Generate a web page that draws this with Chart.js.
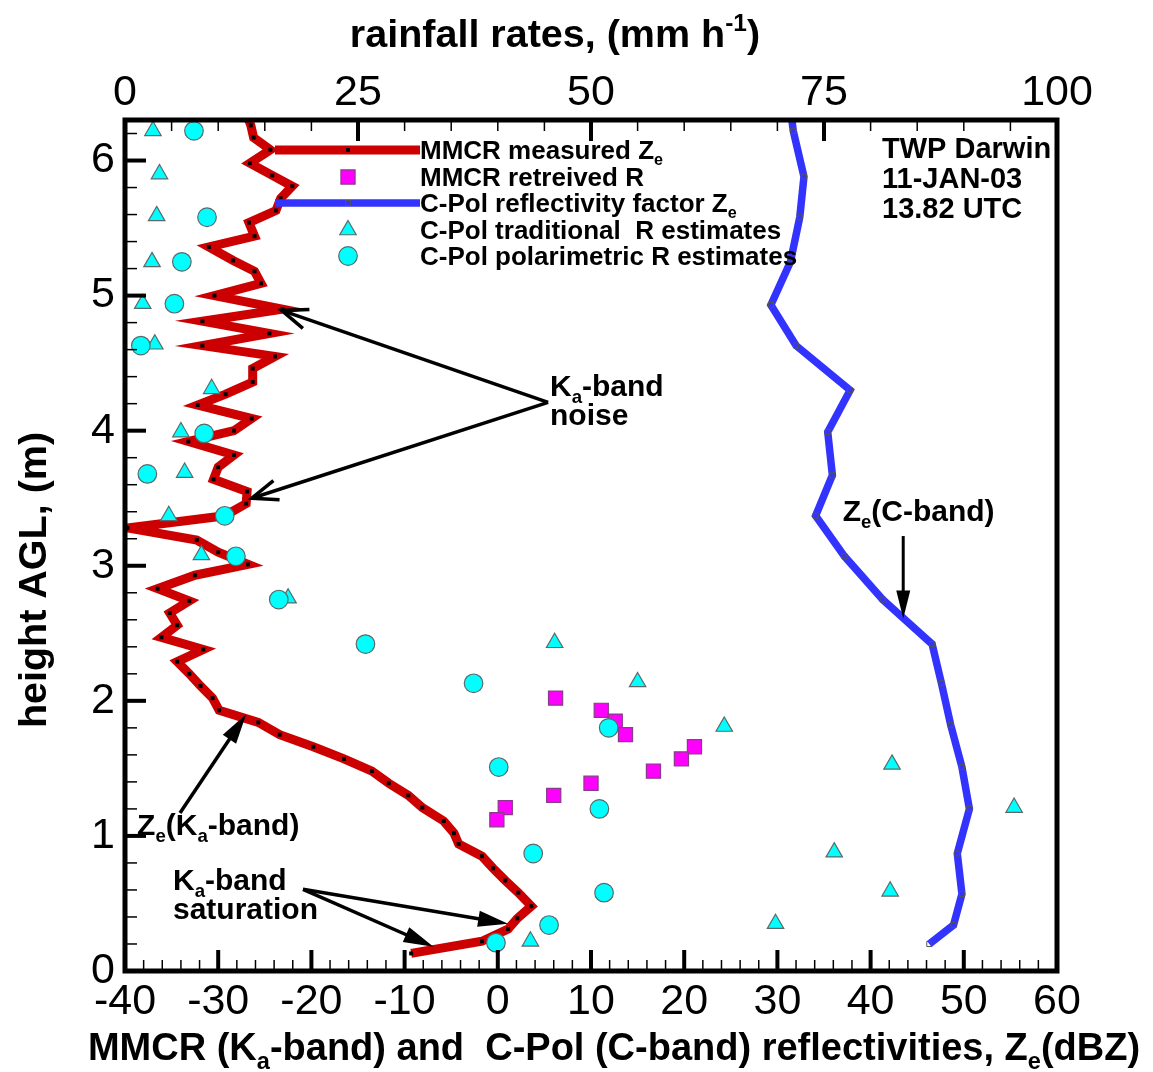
<!DOCTYPE html>
<html>
<head>
<meta charset="utf-8">
<script src="https://cdn.jsdelivr.net/npm/chart.js@4.4.1/dist/chart.umd.min.js"></script>
<style>
  html, body { margin: 0; padding: 0; background: #fff; }
  canvas { display: block; }
</style>
</head>
<body>
<canvas id="chart" width="1153" height="1072"></canvas>
<script>
// tick labels
const bottomTicks = [-40, -30, -20, -10, 0, 10, 20, 30, 40, 50, 60];
const topTicks = [0, 25, 50, 75, 100];
const leftTicks = [0, 1, 2, 3, 4, 5, 6];

// MMCR (Ka-band) measured reflectivity, dBZ vs height
const mmcrHeight = [0.13, 0.22, 0.31, 0.39, 0.48, 0.58, 0.67, 0.76, 0.85, 0.94, 1.02, 1.11, 1.21, 1.30, 1.39, 1.48,
  1.57, 1.66, 1.75, 1.84, 1.93, 2.02, 2.11, 2.20, 2.29, 2.38, 2.47, 2.56, 2.65, 2.74, 2.83, 2.93, 3.01, 3.10, 3.19,
  3.28, 3.37, 3.46, 3.55, 3.64, 3.73, 3.82, 3.92, 4.00, 4.09, 4.19, 4.27, 4.36, 4.46, 4.55, 4.63, 4.72, 4.81, 4.90,
  5.00, 5.09, 5.18, 5.26, 5.36, 5.44, 5.54, 5.63, 5.72, 5.81, 5.89, 5.98, 6.08, 6.17, 6.26, 6.35];
const mmcrZe = [-9.3, -1.7, 1.1, 2.1, 3.6, 2.2, 0.8, -0.5, -1.7, -4.2, -4.7, -5.8, -8.1, -9.6, -11.7, -13.5,
  -16.5, -19.8, -23.4, -25.7, -29.9, -30.6, -31.9, -33.1, -34.4, -31.6, -36.1, -34.4, -35.2, -33.1, -36.5, -32.5, -26.8, -30.0, -32.3,
  -39.75, -29.3, -27.0, -26.9, -30.5, -30.0, -28.3, -33.2, -28.3, -26.4, -32.2, -29.2, -26.3, -26.3, -23.9, -31.7, -24.5, -31.7, -23.1,
  -30.4, -25.4, -26.1, -28.4, -31.0, -26.1, -26.7, -23.8, -23.3, -22.05, -24.2, -26.6, -24.4, -26.2, -26.5, -27.0];

// C-Pol (C-band) reflectivity factor
const cpolHeight = [0.20, 0.34, 0.57, 0.87, 1.20, 1.51, 1.82, 2.13, 2.42, 2.75, 3.07, 3.37, 3.67, 3.99, 4.30,
  4.63, 4.93, 5.25, 5.58, 5.88, 6.22, 6.50];
const cpolZe = [46.3, 48.9, 49.8, 49.3, 50.6, 49.8, 48.6, 47.6, 46.6, 41.3, 37.2, 34.1, 35.9, 35.4, 37.8,
  32.0, 29.3, 31.4, 32.4, 32.85, 31.7, 31.2];

// MMCR retrieved rain rate, mm/h
const retrHeight = [2.02, 1.93, 1.85, 1.75, 1.66, 1.57, 1.48, 1.39, 1.30, 1.21, 1.12];
const retrRain = [46.2, 51.1, 52.6, 53.7, 61.1, 59.7, 56.7, 50.0, 46.0, 40.8, 39.9];

// C-Pol traditional R estimates
const tradHeight = [6.22, 5.90, 5.59, 5.25, 4.94, 4.64, 4.31, 3.99, 3.69, 3.37, 3.08, 2.76, 2.43, 2.14, 1.81,
  1.53, 1.21, 0.88, 0.59, 0.35, 0.22];
const tradRain = [3.0, 3.7, 3.4, 2.9, 1.9, 3.2, 9.3, 6.0, 6.4, 4.7, 8.2, 17.5, 46.1, 55.0, 64.3,
  82.3, 95.4, 76.1, 82.1, 69.8, 43.5];

// C-Pol polarimetric R estimates
const polHeight = [6.22, 5.58, 5.25, 4.94, 4.63, 3.98, 3.68, 3.37, 3.07, 2.75, 2.42, 2.13, 1.80, 1.51, 1.20,
  0.87, 0.58, 0.34, 0.21];
const polRain = [7.4, 8.8, 6.1, 5.3, 1.7, 8.5, 2.4, 10.7, 11.9, 16.5, 25.8, 37.4, 51.9, 40.1, 50.9,
  43.8, 51.4, 45.5, 39.8];

const FONT = '"Liberation Sans", Arial, Helvetica, sans-serif';
const pts = (xs, ys) => xs.map((v, i) => ({ x: v, y: ys[i] }));

// draws text with sub/superscripts; parts = [[text, 'sub'|'sup'|undefined], ...]
function rich(ctx, parts, x, y, size, align) {
  const small = size * 0.62;
  let w = 0;
  const widths = parts.map(p => {
    ctx.font = 'bold ' + (p[1] ? small : size) + 'px ' + FONT;
    const m = ctx.measureText(p[0]).width;
    w += m;
    return m;
  });
  let cx = align === 'center' ? x - w / 2 : x;
  ctx.textAlign = 'left';
  ctx.textBaseline = 'alphabetic';
  parts.forEach((p, i) => {
    ctx.font = 'bold ' + (p[1] ? small : size) + 'px ' + FONT;
    const dy = p[1] === 'sub' ? size * 0.24 : p[1] === 'sup' ? -size * 0.4 : 0;
    ctx.fillText(p[0], cx, y + dy);
    cx += widths[i];
  });
}

function arrow(ctx, x1, y1, x2, y2, lw, len, half, open) {
  const ang = Math.atan2(y2 - y1, x2 - x1);
  ctx.lineWidth = lw;
  ctx.beginPath();
  ctx.moveTo(x1, y1);
  ctx.lineTo(open ? x2 : x2 - Math.cos(ang) * len * 0.7, open ? y2 : y2 - Math.sin(ang) * len * 0.7);
  ctx.stroke();
  const bx = x2 - Math.cos(ang) * len, by = y2 - Math.sin(ang) * len;
  const nx = -Math.sin(ang) * half, ny = Math.cos(ang) * half;
  ctx.beginPath();
  ctx.moveTo(bx + nx, by + ny);
  ctx.lineTo(x2, y2);
  ctx.lineTo(bx - nx, by - ny);
  if (open) {
    ctx.stroke();
  } else {
    ctx.closePath();
    ctx.fill();
  }
}

const decor = {
  id: 'decor',
  afterDraw(chart) {
    const ctx = chart.ctx, a = chart.chartArea;
    const sx = chart.scales.x, sx2 = chart.scales.x2, sy = chart.scales.y;
    ctx.save();
    ctx.strokeStyle = '#000';
    ctx.fillStyle = '#000';
    ctx.lineCap = 'butt';

    const line = (x1, y1, x2, y2, w) => {
      ctx.lineWidth = w;
      ctx.beginPath();
      ctx.moveTo(x1, y1);
      ctx.lineTo(x2, y2);
      ctx.stroke();
    };
    // inward ticks
    for (let i = 0; i <= 50; i++) {
      const px = sx.getPixelForValue(-40 + i * 2), major = i % 5 === 0;
      line(px, a.bottom, px, a.bottom - (major ? 21 : 11), major ? 4 : 1.5);
    }
    for (let i = 0; i <= 20; i++) {
      const px = sx2.getPixelForValue(i * 5), major = i % 5 === 0;
      line(px, a.top, px, a.top + (major ? 21 : 11), major ? 4 : 1.5);
    }
    for (let i = 0; i <= 31; i++) {
      const py = sy.getPixelForValue(i * 0.2), major = i % 5 === 0;
      line(a.left, py, a.left + (major ? 21 : 12), py, major ? 4 : 1.5);
    }
    // frame
    ctx.lineWidth = 5;
    ctx.strokeRect(a.left, a.top, a.right - a.left, a.bottom - a.top);

    // axis titles
    rich(ctx, [['rainfall rates, (mm h'], ['-1', 'sup'], [')']], 555, 47, 39.5, 'center');
    rich(ctx, [['MMCR (K'], ['a', 'sub'], ['-band) and  C-Pol (C-band) reflectivities, Z'], ['e', 'sub'], ['(dBZ)']],
      614, 1060, 38, 'center');
    ctx.save();
    ctx.translate(46, 580);
    ctx.rotate(-Math.PI / 2);
    rich(ctx, [['height AGL, (m)']], 0, 0, 39.5, 'center');
    ctx.restore();

    // legend
    const ds = chart.data.datasets;
    const lx1 = 275, lx2 = 420, lm = 348;
    const rows = [150, 177, 203, 230, 256];
    ctx.strokeStyle = ds[0].borderColor;
    line(lx1, rows[0], lx2, rows[0], ds[0].borderWidth);
    ctx.strokeStyle = ds[1].borderColor;
    line(lx1, rows[2], lx2, rows[2], ds[1].borderWidth);
    const pt = (d, y) => {
      ctx.fillStyle = d.pointBackgroundColor;
      ctx.strokeStyle = d.pointBorderColor;
      ctx.lineWidth = d.pointBorderWidth || 1;
      Chart.helpers.drawPoint(ctx, {
        pointStyle: d.pointStyle, radius: d.pointRadius, borderWidth: d.pointBorderWidth, rotation: 0
      }, lm, y);
    };
    pt(ds[0], rows[0]);
    pt(ds[2], rows[1]);
    pt(ds[1], rows[2]);
    pt(ds[3], rows[3]);
    pt(ds[4], rows[4]);
    ctx.fillStyle = '#000';
    ctx.strokeStyle = '#000';
    const lf = 26;
    rich(ctx, [['MMCR measured Z'], ['e', 'sub']], lx2, rows[0] + 9, lf);
    rich(ctx, [['MMCR retreived R']], lx2, rows[1] + 9, lf);
    rich(ctx, [['C-Pol reflectivity factor Z'], ['e', 'sub']], lx2, rows[2] + 9, lf);
    rich(ctx, [['C-Pol traditional  R estimates']], lx2, rows[3] + 9, lf);
    rich(ctx, [['C-Pol polarimetric R estimates']], lx2, rows[4] + 9, lf);

    // station text
    rich(ctx, [['TWP Darwin']], 882, 158, 29);
    rich(ctx, [['11-JAN-03']], 882, 188, 29);
    rich(ctx, [['13.82 UTC']], 882, 218, 29);

    // annotations, placed in data coordinates (dBZ, height)
    const X = v => sx.getPixelForValue(v), Y = v => sy.getPixelForValue(v);
    const af = 30;
    rich(ctx, [['K'], ['a', 'sub'], ['-band']], X(5.6), Y(4.26), af);
    rich(ctx, [['noise']], X(5.6), Y(4.04), af);
    arrow(ctx, X(5.4), Y(4.21), X(-23.2), Y(4.89), 3.5, 26, 10, true);
    arrow(ctx, X(5.4), Y(4.21), X(-26.4), Y(3.50), 3.5, 26, 10, true);

    rich(ctx, [['Z'], ['e', 'sub'], ['(C-band)']], X(37.0), Y(3.33), af);
    arrow(ctx, X(43.5), Y(3.22), X(43.5), Y(2.61), 3, 28, 7, false);

    rich(ctx, [['Z'], ['e', 'sub'], ['(K'], ['a', 'sub'], ['-band)']], X(-38.7), Y(1.01), af);
    arrow(ctx, X(-34.1), Y(1.17), X(-27.0), Y(1.90), 3.5, 30, 8, false);

    rich(ctx, [['K'], ['a', 'sub'], ['-band']], X(-34.85), Y(0.60), af);
    rich(ctx, [['saturation']], X(-34.85), Y(0.385), af);
    arrow(ctx, X(-20.9), Y(0.605), X(1.1), Y(0.35), 3.5, 30, 8, false);
    arrow(ctx, X(-20.9), Y(0.605), X(-6.9), Y(0.18), 3.5, 30, 8, false);

    ctx.restore();
  }
};

const tickFont = { family: FONT, size: 43 };

new Chart(document.getElementById('chart'), {
  type: 'scatter',
  data: {
    datasets: [
      {
        label: 'MMCR measured Ze',
        data: pts(mmcrZe, mmcrHeight),
        xAxisID: 'x', yAxisID: 'y',
        showLine: true,
        borderColor: '#cc0000',
        borderWidth: 9,
        borderJoinStyle: 'miter',
        pointStyle: 'rect',
        pointRadius: 2.8,
        pointBackgroundColor: '#000',
        pointBorderColor: '#000',
        pointBorderWidth: 0,
        order: 4
      },
      {
        label: 'C-Pol reflectivity factor Ze',
        data: pts(cpolZe, cpolHeight),
        xAxisID: 'x', yAxisID: 'y',
        showLine: true,
        borderColor: '#3333ff',
        borderWidth: 7.5,
        borderJoinStyle: 'miter',
        pointStyle: 'rect',
        pointRadius: 3.6,
        pointBackgroundColor: 'rgba(0,0,0,0)',
        pointBorderColor: '#555',
        pointBorderWidth: 1,
        order: 5
      },
      {
        label: 'MMCR retreived R',
        data: pts(retrRain, retrHeight),
        xAxisID: 'x2', yAxisID: 'y',
        pointStyle: 'rect',
        pointRadius: 10,
        pointBackgroundColor: '#ff00ff',
        pointBorderColor: '#8a3a8a',
        pointBorderWidth: 1.2,
        order: 3
      },
      {
        label: 'C-Pol traditional R estimates',
        data: pts(tradRain, tradHeight),
        xAxisID: 'x2', yAxisID: 'y',
        pointStyle: 'triangle',
        pointRadius: 9.5,
        pointBackgroundColor: '#00ffff',
        pointBorderColor: '#5a6a6a',
        pointBorderWidth: 1.2,
        order: 2
      },
      {
        label: 'C-Pol polarimetric R estimates',
        data: pts(polRain, polHeight),
        xAxisID: 'x2', yAxisID: 'y',
        pointStyle: 'circle',
        pointRadius: 9.3,
        pointBackgroundColor: '#00ffff',
        pointBorderColor: '#5a6a6a',
        pointBorderWidth: 1.2,
        order: 1
      }
    ]
  },
  options: {
    responsive: false,
    devicePixelRatio: 1,
    animation: false,
    events: [],
    layout: { padding: { left: 0, right: 96, top: 0, bottom: 0 } },
    plugins: { legend: { display: false }, tooltip: { enabled: false } },
    scales: {
      x: {
        type: 'linear', position: 'bottom', min: -40, max: 60,
        afterBuildTicks: s => { s.ticks = bottomTicks.map(v => ({ value: v })); },
        afterFit: s => { s.height = 101; },
        grid: { display: false, drawTicks: false },
        border: { display: false },
        ticks: { font: tickFont, color: '#000', padding: 5, maxRotation: 0, autoSkip: false }
      },
      x2: {
        type: 'linear', position: 'top', min: 0, max: 100,
        afterBuildTicks: s => { s.ticks = topTicks.map(v => ({ value: v })); },
        afterFit: s => { s.height = 120; },
        grid: { display: false, drawTicks: false },
        border: { display: false },
        ticks: { font: tickFont, color: '#000', padding: 1, maxRotation: 0, autoSkip: false }
      },
      y: {
        type: 'linear', position: 'left', min: 0, max: 6.3,
        afterBuildTicks: s => { s.ticks = leftTicks.map(v => ({ value: v })); },
        afterFit: s => { s.width = 125; },
        grid: { display: false, drawTicks: false },
        border: { display: false },
        ticks: { font: tickFont, color: '#000', padding: 10, autoSkip: false }
      }
    }
  },
  plugins: [decor]
});
</script>
</body>
</html>
